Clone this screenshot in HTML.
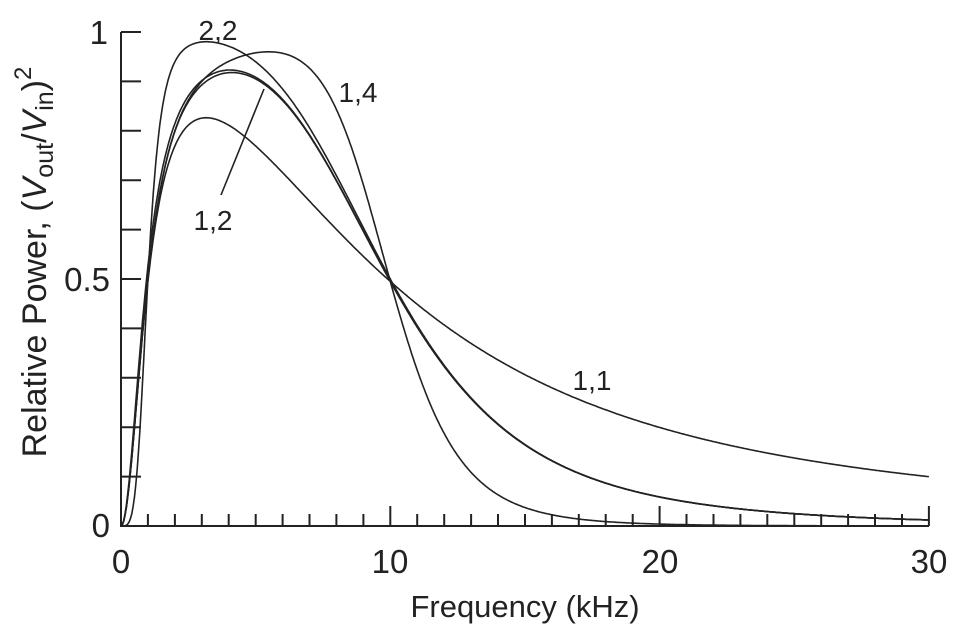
<!DOCTYPE html>
<html><head><meta charset="utf-8"><style>
body{margin:0;background:#fff}
svg{display:block}
text{font-family:"Liberation Sans",Arial,sans-serif;fill:#222}
</style></head><body>
<svg id="s" width="958" height="637" viewBox="0 0 958 637">
<g stroke="#222" stroke-width="2" fill="none" id="ax">
<path d="M121,32 V526 H929"/>
</g>
<g id="curves" stroke="#222" stroke-width="1.6" fill="none"></g>
<line x1="221" y1="195" x2="264" y2="89" stroke="#222" stroke-width="1.6"/>
<g font-size="28">
<text x="218" y="40" text-anchor="middle">2,2</text>
<text x="358" y="102" text-anchor="middle">1,4</text>
<text x="213" y="230" text-anchor="middle">1,2</text>
<text x="592" y="390" text-anchor="middle">1,1</text>
</g>
<g font-size="33">
<text x="108" y="44" text-anchor="end">1</text>
<text x="110" y="291" text-anchor="end">0.5</text>
<text x="110" y="537" text-anchor="end">0</text>
<text x="121" y="573" text-anchor="middle">0</text>
<text x="390" y="573" text-anchor="middle">10</text>
<text x="660" y="573" text-anchor="middle">20</text>
<text x="929" y="573" text-anchor="middle">30</text>
</g>
<g font-size="31">
<text x="525" y="617" text-anchor="middle">Frequency (kHz)</text>
</g>
<text font-size="34" transform="translate(46,262) rotate(-90)" text-anchor="middle">Relative Power, (<tspan font-style="italic">V</tspan><tspan font-size="25" dy="7">out</tspan><tspan dy="-7">/</tspan><tspan font-style="italic">V</tspan><tspan font-size="25" dy="7">in</tspan><tspan dy="-7">)</tspan><tspan font-size="24" dy="-15">2</tspan></text>
</svg>
<script>
var ns="http://www.w3.org/2000/svg";
var ax=document.getElementById("ax"),cv=document.getElementById("curves");
function X(f){return 121+f*26.93}
function Y(v){return 526-v*494}
var d="";
for(var i=1;i<=30;i++){var l=(i%10==0)?20:12;d+="M"+X(i).toFixed(1)+",526V"+(526-l);}
for(var j=1;j<=10;j++){d+="M121,"+Y(j/10).toFixed(1)+"H141";}
var p=document.createElementNS(ns,"path");p.setAttribute("d",d);ax.appendChild(p);
function curve(n,m,f1){var s="";for(var k=0;k<=600;k++){var f=k*0.05;var a=Math.pow(f/f1,2*n);var hp=a/(1+a);var lp=1/(1+Math.pow(f/10,2*m));var v=hp*lp;s+=(k?"L":"M")+X(f).toFixed(1)+","+Y(v).toFixed(1);}
var q=document.createElementNS(ns,"path");q.setAttribute("d",s);cv.appendChild(q);}
curve(1,1,1);curve(1,2,1);curve(1,2,0.95);curve(1,4,1);curve(2,2,1);
</script>
</body></html>
